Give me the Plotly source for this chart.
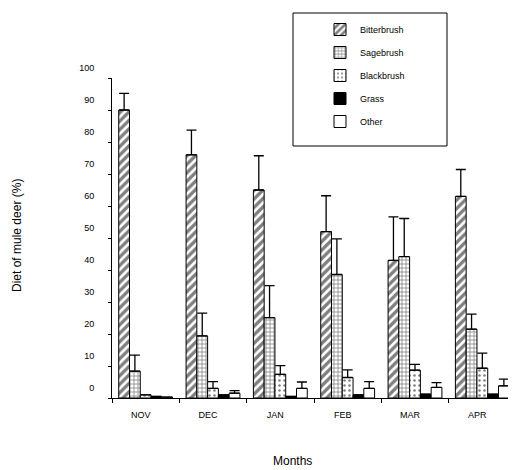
import plotly.graph_objects as go

months = ["NOV", "DEC", "JAN", "FEB", "MAR", "APR"]
series_names = ["Bitterbrush", "Sagebrush", "Blackbrush", "Grass", "Other"]
bitterbrush = [90.0, 76.0, 65.0, 52.0, 43.0, 63.0]
bitterbrush_err = [5.2, 7.7, 10.7, 11.2, 13.6, 8.4]
sagebrush = [8.4, 19.4, 25.1, 38.6, 44.2, 21.5]
sagebrush_err = [5.0, 7.1, 10.0, 11.1, 11.9, 4.7]
blackbrush = [1.0, 3.0, 7.4, 6.4, 8.7, 9.3]
blackbrush_err = [0.0, 2.1, 2.7, 2.4, 1.8, 4.7]
grass = [0.5, 1.0, 0.5, 1.0, 1.2, 1.2]
grass_err = [0.0, 0.0, 0.0, 0.0, 0.0, 0.0]
other = [0.3, 1.5, 3.0, 3.0, 3.3, 3.8]
other_err = [0.0, 0.8, 2.0, 2.1, 1.5, 2.1]

values = [bitterbrush, sagebrush, blackbrush, grass, other]
errors = [bitterbrush_err, sagebrush_err, blackbrush_err, grass_err, other_err]
patterns = [
    dict(shape="/", fgcolor="black", bgcolor="white", size=6, solidity=0.55),
    dict(shape="+", fgcolor="black", bgcolor="white", size=4, solidity=0.35),
    dict(shape=".", fgcolor="black", bgcolor="white", size=5, solidity=0.2),
    dict(shape="", fgcolor="black", bgcolor="black"),
    dict(shape="", fgcolor="black", bgcolor="white"),
]
colors = ["white", "white", "white", "black", "white"]

fig = go.Figure()
for name, vals, errs, pat, col in zip(series_names, values, errors, patterns, colors):
    fig.add_trace(go.Bar(
        name=name, x=months, y=vals, legendgroup=name,
        marker=dict(color=col, pattern=pat, line=dict(color="black", width=1)),
        error_y=dict(type="data", symmetric=False, array=errs,
                     arrayminus=[0] * len(errs), color="black",
                     thickness=1.3, width=5, visible=True),
    ))

# page has an 8px body margin; work in page pixels and convert
OFF = 8
W, H = 516 - OFF, 470 - OFF
PL, PR, PT, PB = 112, 516, 78, 398  # plot area in page pixels
L, T = PL - OFF, PT - OFF
R = W - (PR - OFF)
B = H - (PB - OFF)
pw, ph = PR - PL, PB - PT

def px(x):
    return (x - PL) / pw

def py(y):
    return (PB - y) / ph

fig.update_layout(
    width=W, height=H,
    margin=dict(l=L, r=R, t=T, b=B, autoexpand=False),
    paper_bgcolor="white", plot_bgcolor="white",
    barmode="group", bargap=0.2, bargroupgap=0,
    font=dict(family="Liberation Sans, Arial, sans-serif", color="black", size=9),
    showlegend=True,
    legend=dict(x=px(320), y=py(15), xanchor="left", yanchor="top",
                bgcolor="rgba(0,0,0,0)", borderwidth=0,
                font=dict(size=9), itemwidth=30, tracegroupgap=4),
    xaxis=dict(showline=True, linecolor="black", linewidth=1,
               ticks="outside", ticklen=4, tickcolor="black", tickson="boundaries",
               showgrid=False, tickfont=dict(size=9), ticklabelshift=-5,
               ticklabelstandoff=8),
    yaxis=dict(range=[0, 100], showline=True, linecolor="black", linewidth=1,
               ticks="outside", ticklen=3, tickcolor="black", dtick=10,
               showgrid=False, zeroline=False, tickfont=dict(size=9),
               ticklabelshift=-10, ticklabelstandoff=12),
    shapes=[dict(type="rect", xref="paper", yref="paper",
                 x0=px(293), x1=px(447), y0=py(146), y1=py(13),
                 line=dict(color="black", width=1), fillcolor="rgba(0,0,0,0)")],
    annotations=[
        dict(text="Months", xref="paper", yref="paper", x=px(292), y=py(461),
             showarrow=False, font=dict(size=12), xanchor="center", yanchor="middle"),
        dict(text="Diet of mule deer (%)", xref="paper", yref="paper", x=px(17), y=py(236),
             showarrow=False, textangle=-90, font=dict(size=12),
             xanchor="center", yanchor="middle"),
    ],
)

fig.write_html("out.html")
